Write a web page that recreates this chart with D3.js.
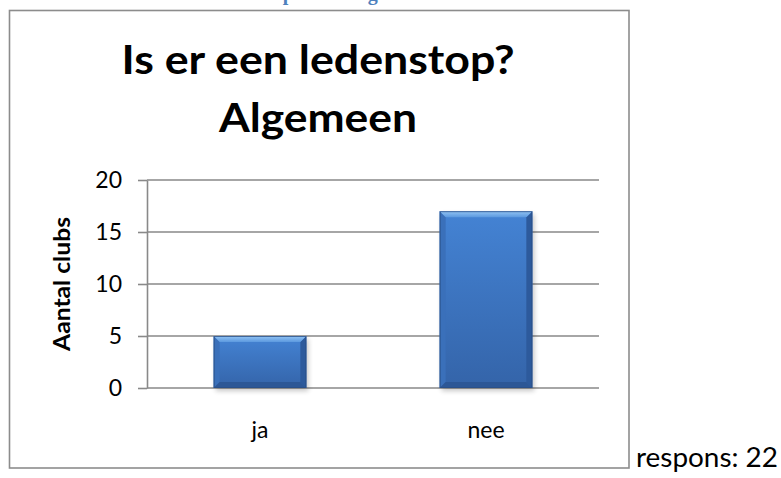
<!DOCTYPE html>
<html>
<head>
<meta charset="utf-8">
<script src="https://cdn.jsdelivr.net/npm/d3@7"></script>
<style>
  body { margin: 0; background: #fff; }
  svg { display: block; }
</style>
</head>
<body>
<div id="chart"></div>
<script>
// chart data
const categories = ["ja", "nee"];
const values = [5, 17];
const yTicks = [0, 5, 10, 15, 20];
const titleLines = ["Is er een ledenstop?", "Algemeen"];
const yLabel = "Aantal clubs";
const responseNote = "respons: 22";
const headingText = "Ledenstop in het algemeen";

const width = 781, height = 478;
const font = "Lato, 'Open Sans', sans-serif";
const gridColor = "#898989";

const svg = d3.select("#chart").append("svg")
    .attr("width", width)
    .attr("height", height);

const defs = svg.append("defs");

const bodyGrad = defs.append("linearGradient")
    .attr("id", "barBody").attr("x1", 0).attr("y1", 0).attr("x2", 0).attr("y2", 1);
bodyGrad.append("stop").attr("offset", "0%").attr("stop-color", "#4483d4");
bodyGrad.append("stop").attr("offset", "100%").attr("stop-color", "#3464a9");

const topGrad = defs.append("linearGradient")
    .attr("id", "barTop").attr("x1", 0).attr("y1", 0).attr("x2", 0).attr("y2", 1);
topGrad.append("stop").attr("offset", "0%").attr("stop-color", "#93c5f4");
topGrad.append("stop").attr("offset", "100%").attr("stop-color", "#5c99df");

const shadow = defs.append("filter").attr("id", "shadow")
    .attr("x", "-20%").attr("y", "-20%").attr("width", "140%").attr("height", "140%");
shadow.append("feGaussianBlur").attr("stdDeviation", 2.5);

// blue heading cut off at the top of the page (as in the source document)
svg.append("text")
    .attr("x", 205)
    .attr("y", 0)
    .style("font-family", "'Liberation Serif', serif")
    .style("font-weight", "bold")
    .style("font-size", "20px")
    .attr("fill", "#4f81bd")
    .text(headingText);

// chart frame
svg.append("rect")
    .attr("x", 9.5)
    .attr("y", 10.5)
    .attr("width", 619.5)
    .attr("height", 457.5)
    .attr("fill", "#fff")
    .attr("stroke", "#8c8c8c")
    .attr("stroke-width", 1.6);

// title
const title = svg.append("text")
    .style("font-family", font)
    .style("font-weight", "bold")
    .style("font-size", "41px")
    .attr("text-anchor", "middle")
    .attr("fill", "#000");
title.append("tspan").attr("x", 318).attr("y", 74)
    .attr("textLength", 393).attr("lengthAdjust", "spacingAndGlyphs")
    .text(titleLines[0]);
title.append("tspan").attr("x", 318).attr("y", 132)
    .attr("textLength", 198).attr("lengthAdjust", "spacingAndGlyphs")
    .text(titleLines[1]);

const plotLeft = 147, plotRight = 599, plotTop = 180, plotBottom = 388;

const x = d3.scaleBand()
    .domain(categories)
    .range([plotLeft, plotRight])
    .paddingInner(0.59)
    .paddingOuter(0.295);

const y = d3.scaleLinear()
    .domain([0, 20])
    .range([plotBottom, plotTop]);

// horizontal grid lines
svg.append("g")
    .selectAll("line")
    .data(yTicks)
    .enter()
    .append("line")
    .attr("x1", plotLeft)
    .attr("x2", plotRight)
    .attr("y1", d => y(d))
    .attr("y2", d => y(d))
    .attr("stroke", gridColor)
    .attr("stroke-width", 1.6);

// y axis
const yAxis = svg.append("g")
    .attr("transform", `translate(${plotLeft},0)`)
    .call(d3.axisLeft(y).tickValues(yTicks).tickSize(9).tickSizeOuter(0).tickPadding(16));
yAxis.select(".domain").attr("stroke", gridColor).attr("stroke-width", 1.6);
yAxis.selectAll(".tick line").attr("stroke", gridColor).attr("stroke-width", 1.6);
yAxis.selectAll("text")
    .style("font-family", font)
    .style("font-size", "23px")
    .attr("fill", "#000");

// x axis labels
const xAxis = svg.append("g")
    .attr("transform", `translate(0,${plotBottom})`)
    .call(d3.axisBottom(x).tickSize(0).tickPadding(34));
xAxis.select(".domain").remove();
xAxis.selectAll("text")
    .style("font-family", font)
    .style("font-size", "23px")
    .attr("fill", "#000");

// y axis title
svg.append("text")
    .attr("transform", `translate(70,${(plotTop + plotBottom) / 2}) rotate(-90)`)
    .attr("text-anchor", "middle")
    .attr("textLength", 134)
    .attr("lengthAdjust", "spacingAndGlyphs")
    .style("font-family", font)
    .style("font-weight", "bold")
    .style("font-size", "22px")
    .attr("fill", "#000")
    .text(yLabel);

// bevelled bars
const bev = 6;
const bars = svg.append("g");
categories.forEach((c, i) => {
    const x0 = x(c), x1 = x(c) + x.bandwidth();
    const y0 = y(values[i]), y1 = y(0);
    const g = bars.append("g");

    g.append("rect")
        .attr("x", x0 + 2)
        .attr("y", y0 + 3)
        .attr("width", x1 - x0)
        .attr("height", y1 - y0)
        .attr("fill", "#000")
        .attr("opacity", 0.22)
        .attr("filter", "url(#shadow)");

    g.append("rect")
        .attr("x", x0)
        .attr("y", y0)
        .attr("width", x1 - x0)
        .attr("height", y1 - y0)
        .attr("fill", "url(#barBody)");

    const poly = pts => pts.map(p => p.join(",")).join(" ");
    // left
    g.append("polygon")
        .attr("points", poly([[x0, y0], [x0 + bev, y0 + bev], [x0 + bev, y1 - bev], [x0, y1]]))
        .attr("fill", "#3a70ba");
    // right
    g.append("polygon")
        .attr("points", poly([[x1, y0], [x1 - bev, y0 + bev], [x1 - bev, y1 - bev], [x1, y1]]))
        .attr("fill", "#2d5a9c");
    // bottom
    g.append("polygon")
        .attr("points", poly([[x0, y1], [x0 + bev, y1 - bev], [x1 - bev, y1 - bev], [x1, y1]]))
        .attr("fill", "#2c5796");
    // top
    g.append("polygon")
        .attr("points", poly([[x0, y0], [x1, y0], [x1 - bev, y0 + bev], [x0 + bev, y0 + bev]]))
        .attr("fill", "url(#barTop)");

    g.append("rect")
        .attr("x", x0 + 0.5)
        .attr("y", y0 + 0.5)
        .attr("width", x1 - x0 - 1)
        .attr("height", y1 - y0 - 1)
        .attr("fill", "none")
        .attr("stroke", "#2a4f86")
        .attr("stroke-width", 1)
        .attr("opacity", 0.8);
});

// response count next to the frame
svg.append("text")
    .attr("x", 636)
    .attr("y", 467)
    .attr("textLength", 142)
    .attr("lengthAdjust", "spacingAndGlyphs")
    .style("font-family", font)
    .style("font-size", "26px")
    .attr("fill", "#000")
    .text(responseNote);
</script>
</body>
</html>
